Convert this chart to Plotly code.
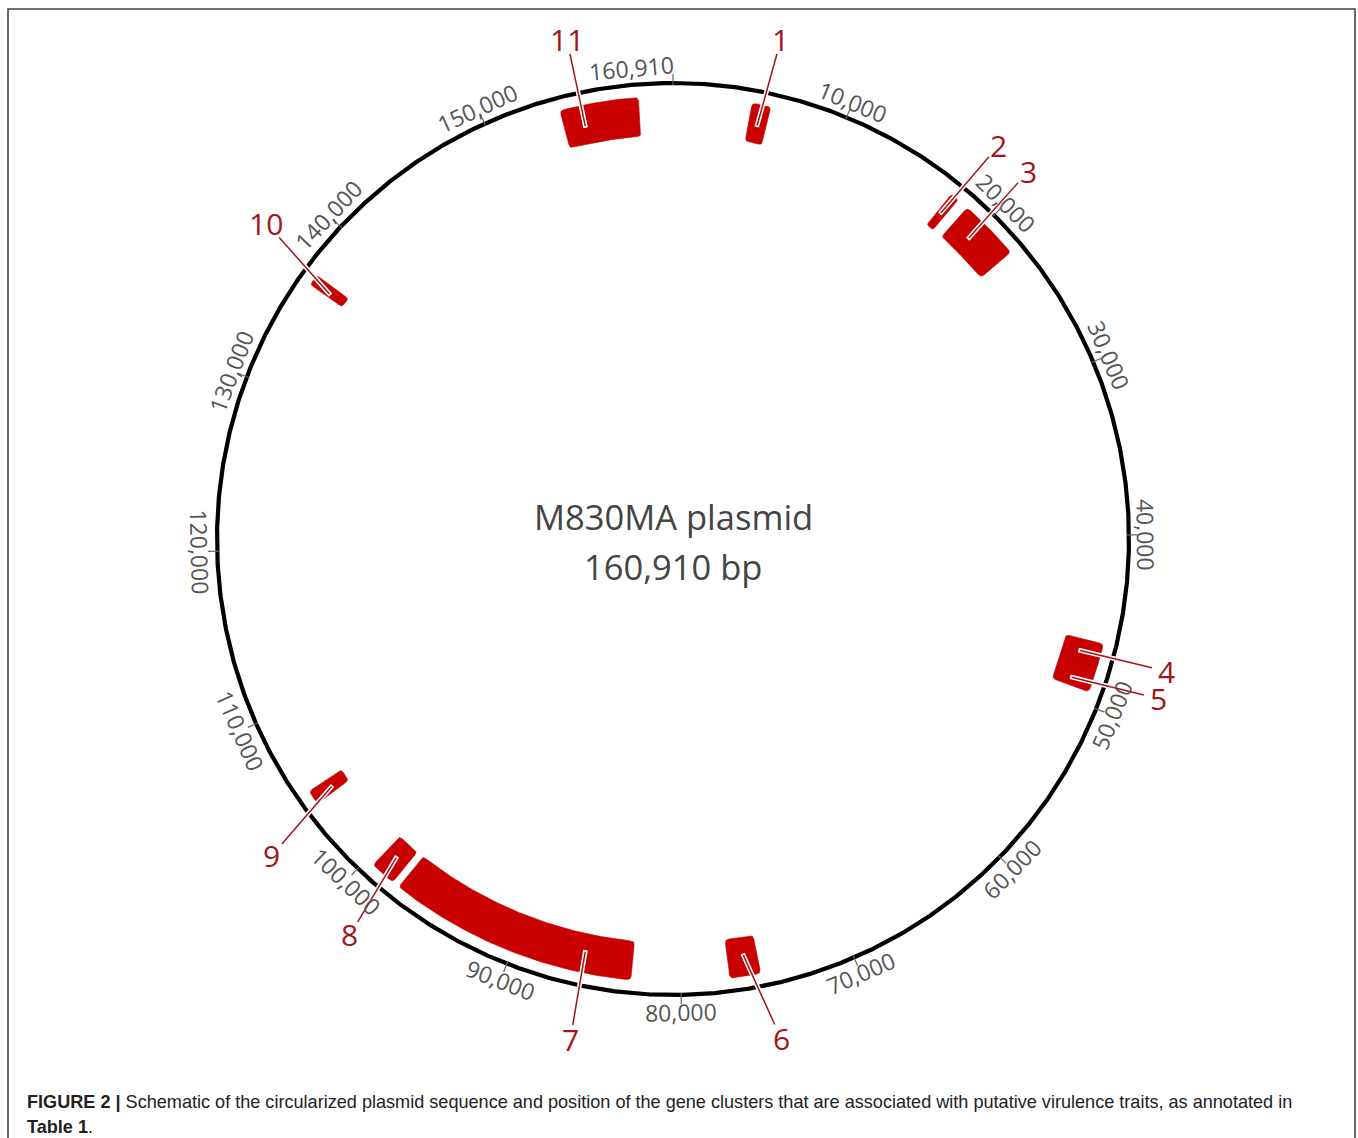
import numpy as np
import plotly.graph_objects as go

# ---------------- data ----------------
GENOME_BP = 160910
plasmid_name = "M830MA plasmid"

feature_ids = [1, 2, 3, 4, 5, 6, 7, 8, 9, 10, 11]
feature_start = [4600, 17400, 18600, 46350, 47600, 75350, 82900, 98000, 104300, 136350, 154300]
feature_end = [5700, 17900, 22200, 47600, 49250, 77150, 97550, 99500, 105150, 137000, 158900]
# position on the map that each numbered leader points to
leader_bp = [5140, 17610, 19890, 47070, 48770, 76170, 85820, 98770, 104610, 136550, 155550]
# position along the map where each number label sits
label_bp = [5450, 17700, 19670, 46930, 48360, 75000, 85640, 97980, 103570, 137600, 155550]

tick_bp = [10000, 20000, 30000, 40000, 50000, 60000, 70000, 80000,
           90000, 100000, 110000, 120000, 130000, 140000, 150000]
tick_text = ["10,000", "20,000", "30,000", "40,000", "50,000", "60,000", "70,000", "80,000",
             "90,000", "100,000", "110,000", "120,000", "130,000", "140,000", "150,000"]
end_tick_text = "160,910"

caption_line1 = ("<b>FIGURE 2 |</b> Schematic of the circularized plasmid sequence and position of the gene "
                 "clusters that are associated with putative virulence traits, as annotated in")
caption_line2 = "<b>Table 1</b>."

# ---------------- layout constants ----------------
W, H = 1358, 1138
CX, CY = 673, 539          # circle centre in page pixels
R = 456                    # backbone radius
R_IN, R_OUT = 404, 443     # feature band
R_ANCHOR, R_LEAD_END, R_NUM = 422, 496, 511
R_TICKLABEL = 473
BLOCK_COLOR = "#c80000"
NUM_COLOR = "#a3141a"
TEXT_GRAY = "#555555"


def ang(bp):
    return 2 * np.pi * np.asarray(bp, dtype=float) / GENOME_BP


def polar(r, bp):
    a = ang(bp)
    return r * np.sin(a), r * np.cos(a)


def pt(r, a):
    return np.array([r * np.sin(a), r * np.cos(a)])


def qbez(p0, c, p1, n=8):
    t = np.linspace(0, 1, n)[:, None]
    return (1 - t) ** 2 * p0 + 2 * (1 - t) * t * c + t ** 2 * p1


def sector_outline(bp0, bp1, r0, r1, rc=4.0, round_start=True, round_end=True):
    a0, a1 = float(ang(bp0)), float(ang(bp1))
    width_px = (a1 - a0) * r0
    rc = min(rc, 0.3 * width_px, 0.3 * (r1 - r0))
    rs = rc if round_start else 0.0
    re = rc if round_end else 0.0
    nseg = max(3, int((a1 - a0) * 180 / np.pi * 3))
    pts = []
    pts.append(qbez(pt(r1 - rs, a0), pt(r1, a0), pt(r1, a0 + rs / r1)))
    aa = np.linspace(a0 + rs / r1, a1 - re / r1, nseg)
    pts.append(np.column_stack([r1 * np.sin(aa), r1 * np.cos(aa)]))
    pts.append(qbez(pt(r1, a1 - re / r1), pt(r1, a1), pt(r1 - re, a1)))
    pts.append(qbez(pt(r0 + re, a1), pt(r0, a1), pt(r0, a1 - re / r0)))
    aa = np.linspace(a1 - re / r0, a0 + rs / r0, nseg)
    pts.append(np.column_stack([r0 * np.sin(aa), r0 * np.cos(aa)]))
    pts.append(qbez(pt(r0, a0 + rs / r0), pt(r0, a0), pt(r0 + rs, a0)))
    P = np.vstack(pts)
    P = np.vstack([P, P[:1]])
    return P[:, 0], P[:, 1]


fig = go.Figure()

# backbone circle
th = np.linspace(0, GENOME_BP, 1441)
cx, cy = polar(R, th)
fig.add_trace(go.Scatter(x=cx, y=cy, mode="lines", line=dict(color="black", width=4.2),
                         hoverinfo="skip", showlegend=False))

# tick marks
tx, ty = [], []
for b in tick_bp + [GENOME_BP]:
    x0, y0 = polar(R - 2, b)
    x1, y1 = polar(R + 9, b)
    tx += [x0, x1, None]
    ty += [y0, y1, None]
fig.add_trace(go.Scatter(x=tx, y=ty, mode="lines", line=dict(color="#666666", width=1.2),
                         hoverinfo="skip", showlegend=False))

# feature blocks (square corners where two clusters abut)
for i, (fid, s, e) in enumerate(zip(feature_ids, feature_start, feature_end)):
    touch_prev = any(fe == s for fe in feature_end)
    touch_next = any(fs == e for fs in feature_start)
    x, y = sector_outline(s, e, R_IN, R_OUT, round_start=not touch_prev, round_end=not touch_next)
    fig.add_trace(go.Scatter(x=x, y=y, mode="lines", fill="toself", fillcolor=BLOCK_COLOR,
                             line=dict(width=0.6, color="#a80000" if (touch_prev or touch_next) else BLOCK_COLOR),
                             hoverinfo="skip", showlegend=False, name=str(fid)))

# leaders
wx, wy, rx, ry = [], [], [], []
num_pos = []
for fid, lb, nb in zip(feature_ids, leader_bp, label_bp):
    p0 = np.array(polar(R_ANCHOR, lb))
    pL = np.array(polar(R_NUM + (4 if fid == 10 else 0), nb))
    d = pL - p0
    d = d / np.linalg.norm(d)
    pd = p0 @ d
    s = -pd + np.sqrt(pd ** 2 - p0 @ p0 + R_LEAD_END ** 2)
    p1 = p0 + s * d
    pw = p0 - 1.6 * d
    wx += [pw[0], p1[0], None]
    wy += [pw[1], p1[1], None]
    rx += [p0[0], p1[0], None]
    ry += [p0[1], p1[1], None]
    num_pos.append((fid, pL))
fig.add_trace(go.Scatter(x=wx, y=wy, mode="lines", line=dict(color="white", width=4.6),
                         hoverinfo="skip", showlegend=False))
fig.add_trace(go.Scatter(x=rx, y=ry, mode="lines", line=dict(color=NUM_COLOR, width=1.5),
                         hoverinfo="skip", showlegend=False))

annotations = []
for fid, pL in num_pos:
    annotations.append(dict(x=pL[0], y=pL[1], xref="x", yref="y", text=str(fid), showarrow=False,
                            xanchor="center", yanchor="middle",
                            font=dict(family="Open Sans", size=30, color=NUM_COLOR)))


def tick_angle(deg):
    if deg <= 90:
        return deg
    if deg <= 270:
        return deg - 180
    return deg - 360


for b, t in zip(tick_bp, tick_text):
    deg = b / GENOME_BP * 360
    x, y = polar(R_TICKLABEL, b)
    annotations.append(dict(x=x, y=y, xref="x", yref="y", text=t, showarrow=False,
                            textangle=tick_angle(deg), xanchor="center", yanchor="middle",
                            font=dict(family="Open Sans", size=23, color=TEXT_GRAY)))
# end label, right-aligned to the origin tick
half_w = 42.0
a_end = -half_w / R_TICKLABEL
annotations.append(dict(x=R_TICKLABEL * np.sin(a_end), y=R_TICKLABEL * np.cos(a_end), xref="x", yref="y",
                        text=end_tick_text, showarrow=False, textangle=np.degrees(a_end),
                        xanchor="center", yanchor="middle",
                        font=dict(family="Open Sans", size=23, color=TEXT_GRAY)))

# centre title
annotations.append(dict(x=0, y=CY - 516, xref="x", yref="y", text=plasmid_name, showarrow=False,
                        xanchor="center", yanchor="middle",
                        font=dict(family="Open Sans", size=34.5, color="#444444")))
annotations.append(dict(x=0, y=CY - 566, xref="x", yref="y", text=f"{GENOME_BP:,} bp", showarrow=False,
                        xanchor="center", yanchor="middle",
                        font=dict(family="Open Sans", size=34.5, color="#444444")))

# caption
annotations.append(dict(x=25 - CX, y=CY - 1102, xref="x", yref="y", text=caption_line1, showarrow=False,
                        xanchor="left", yanchor="middle",
                        font=dict(family="Liberation Sans", size=18.1, color="#222222")))
annotations.append(dict(x=25 - CX, y=CY - 1127, xref="x", yref="y", text=caption_line2, showarrow=False,
                        xanchor="left", yanchor="middle",
                        font=dict(family="Liberation Sans", size=18.1, color="#222222")))

shapes = [dict(type="rect", xref="x", yref="y", x0=8 - CX, x1=1355 - CX, y0=CY - 9, y1=CY - 1300,
               line=dict(color="#444444", width=1.6), fillcolor="rgba(0,0,0,0)", layer="below")]

fig.update_layout(
    width=W, height=H, margin=dict(l=0, r=0, t=0, b=0),
    paper_bgcolor="white", plot_bgcolor="white",
    xaxis=dict(range=[-CX, W - CX], visible=False, fixedrange=True),
    yaxis=dict(range=[CY - H, CY], visible=False, fixedrange=True),
    annotations=annotations, shapes=shapes, showlegend=False,
)

fig.write_html("out.html", config={"displayModeBar": False})
